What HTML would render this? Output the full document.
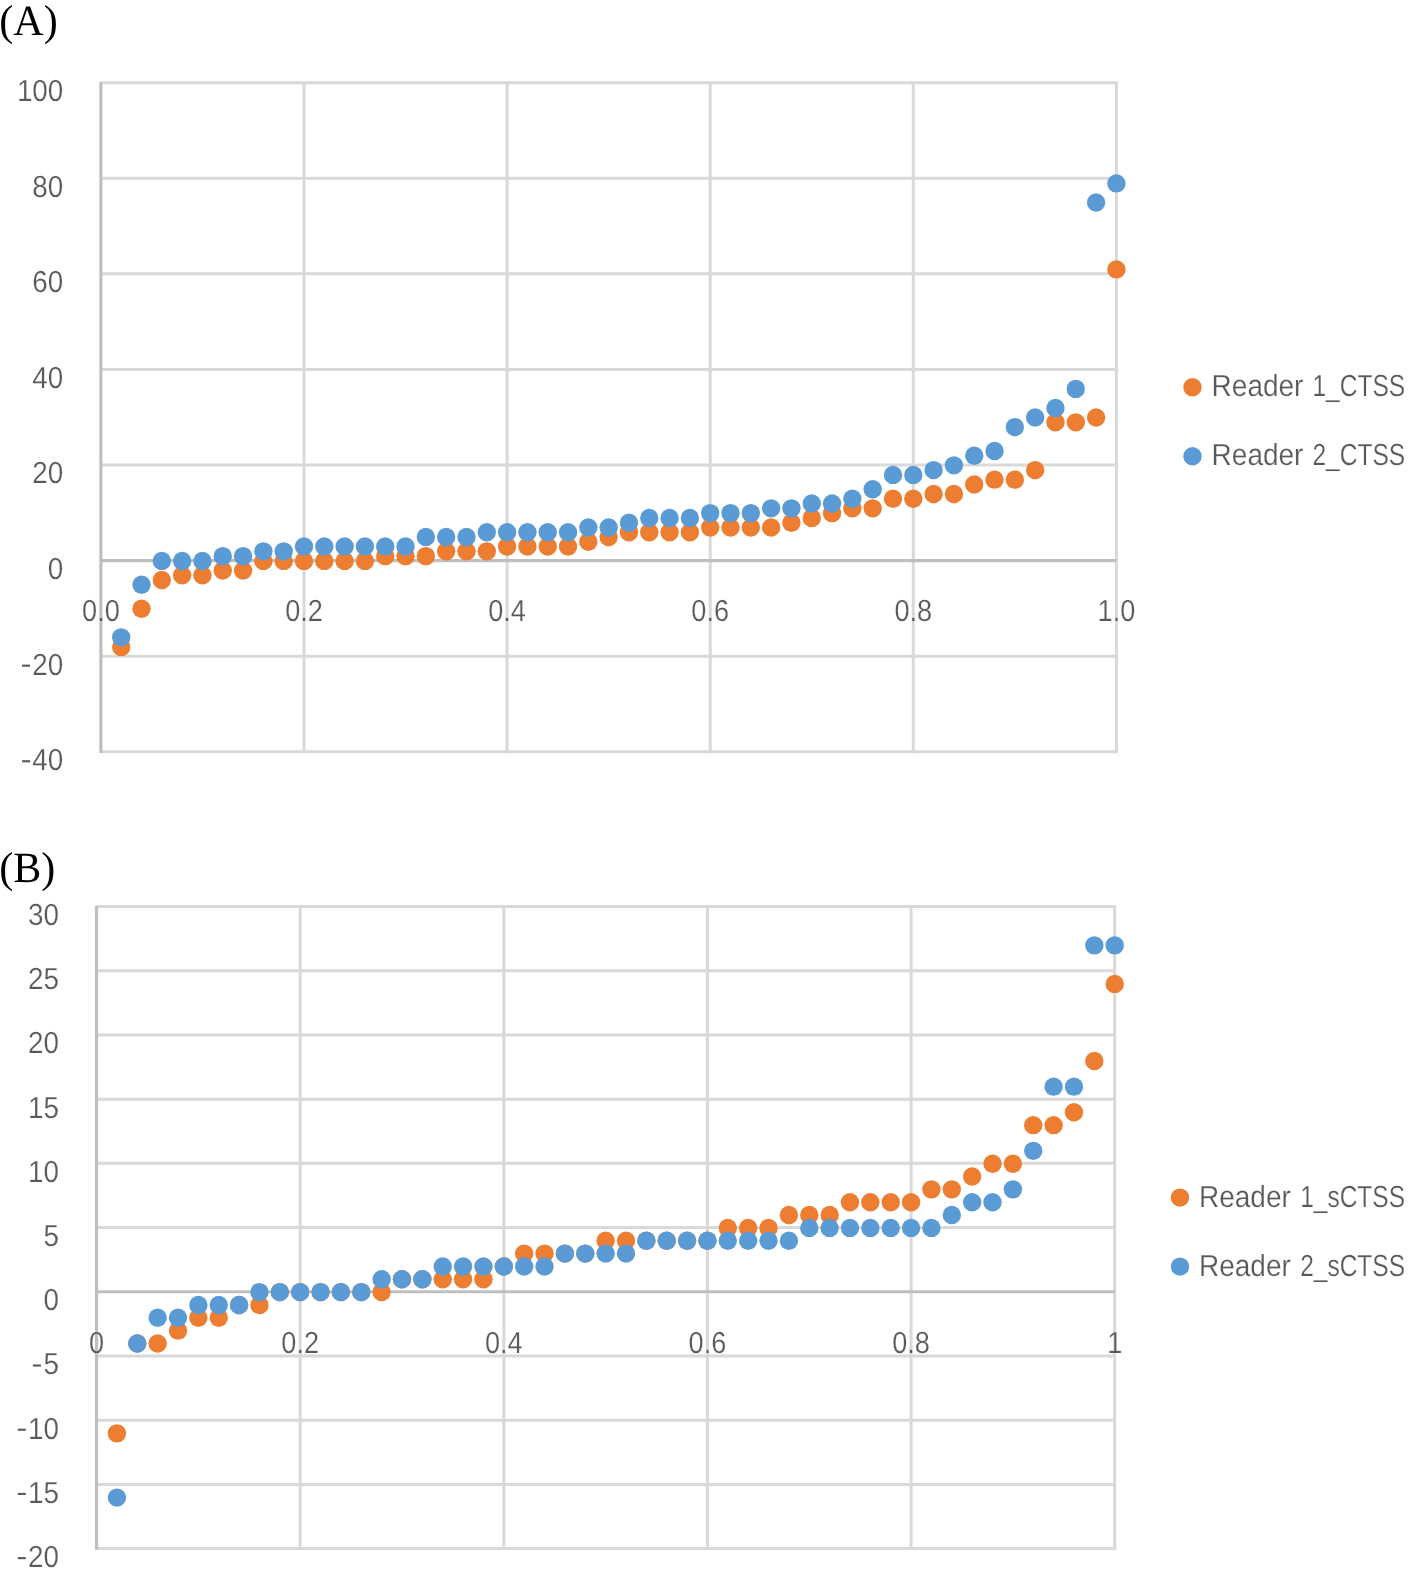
<!DOCTYPE html>
<html lang="en">
<head>
<meta charset="utf-8">
<title>Reader CTSS / sCTSS cumulative probability plots</title>
<style>
html,body{margin:0;padding:0;background:#fff;}
body{width:1419px;height:1574px;overflow:hidden;font-family:"Liberation Sans",sans-serif;}
svg{display:block;will-change:transform;}
svg text{stroke:#fff;stroke-width:.22px;paint-order:fill stroke;stroke-linejoin:round;}
svg .pl text{stroke:none;}
</style>
</head>
<body>
<svg width="1419" height="1574" viewBox="0 0 1419 1574" font-family="'Liberation Sans', sans-serif" font-size="30.5" fill="#595959" text-rendering="geometricPrecision">
<rect width="1419" height="1574" fill="#fff"/>
<line x1="100.9" y1="82.7" x2="1116.4" y2="82.7" stroke="#D9D9D9" stroke-width="3"/>
<line x1="100.9" y1="178.27" x2="1116.4" y2="178.27" stroke="#D9D9D9" stroke-width="3"/>
<line x1="100.9" y1="273.84" x2="1116.4" y2="273.84" stroke="#D9D9D9" stroke-width="3"/>
<line x1="100.9" y1="369.41" x2="1116.4" y2="369.41" stroke="#D9D9D9" stroke-width="3"/>
<line x1="100.9" y1="464.99" x2="1116.4" y2="464.99" stroke="#D9D9D9" stroke-width="3"/>
<line x1="100.9" y1="656.13" x2="1116.4" y2="656.13" stroke="#D9D9D9" stroke-width="3"/>
<line x1="100.9" y1="751.7" x2="1116.4" y2="751.7" stroke="#D9D9D9" stroke-width="3"/>
<line x1="304" y1="82.7" x2="304" y2="751.7" stroke="#D9D9D9" stroke-width="3" stroke-linecap="square"/>
<line x1="507.1" y1="82.7" x2="507.1" y2="751.7" stroke="#D9D9D9" stroke-width="3" stroke-linecap="square"/>
<line x1="710.2" y1="82.7" x2="710.2" y2="751.7" stroke="#D9D9D9" stroke-width="3" stroke-linecap="square"/>
<line x1="913.3" y1="82.7" x2="913.3" y2="751.7" stroke="#D9D9D9" stroke-width="3" stroke-linecap="square"/>
<line x1="1116.4" y1="82.7" x2="1116.4" y2="751.7" stroke="#D9D9D9" stroke-width="3" stroke-linecap="square"/>
<line x1="100.9" y1="560.56" x2="1116.4" y2="560.56" stroke="#BFBFBF" stroke-width="3.2"/>
<line x1="100.9" y1="82.1" x2="100.9" y2="752.9" stroke="#BFBFBF" stroke-width="3.2"/>
<text transform="translate(63.3 101.1) scale(0.912 1)" text-anchor="end">100</text>
<text transform="translate(63.3 196.67) scale(0.912 1)" text-anchor="end">80</text>
<text transform="translate(63.3 292.24) scale(0.912 1)" text-anchor="end">60</text>
<text transform="translate(63.3 387.81) scale(0.912 1)" text-anchor="end">40</text>
<text transform="translate(63.3 483.39) scale(0.912 1)" text-anchor="end">20</text>
<text transform="translate(63.3 578.96) scale(0.912 1)" text-anchor="end">0</text>
<text transform="translate(63.3 674.53) scale(0.912 1)" text-anchor="end">20</text>
<rect x="22.1" y="664.63" width="8" height="2.1" fill="#595959"/>
<text transform="translate(63.3 770.1) scale(0.912 1)" text-anchor="end">40</text>
<rect x="22.1" y="760.2" width="8" height="2.1" fill="#595959"/>
<text transform="translate(100.9 620.96) scale(0.89 1)" text-anchor="middle">0.0</text>
<text transform="translate(304 620.96) scale(0.89 1)" text-anchor="middle">0.2</text>
<text transform="translate(507.1 620.96) scale(0.89 1)" text-anchor="middle">0.4</text>
<text transform="translate(710.2 620.96) scale(0.89 1)" text-anchor="middle">0.6</text>
<text transform="translate(913.3 620.96) scale(0.89 1)" text-anchor="middle">0.8</text>
<text transform="translate(1116.4 620.96) scale(0.89 1)" text-anchor="middle">1.0</text>
<g fill="#ED7D31">
<circle cx="121.21" cy="646.92" r="9.2"/>
<circle cx="141.52" cy="608.69" r="9.2"/>
<circle cx="161.83" cy="580.02" r="9.2"/>
<circle cx="182.14" cy="575.24" r="9.2"/>
<circle cx="202.45" cy="575.24" r="9.2"/>
<circle cx="222.76" cy="570.46" r="9.2"/>
<circle cx="243.07" cy="570.46" r="9.2"/>
<circle cx="263.38" cy="560.91" r="9.2"/>
<circle cx="283.69" cy="560.91" r="9.2"/>
<circle cx="304" cy="560.91" r="9.2"/>
<circle cx="324.31" cy="560.91" r="9.2"/>
<circle cx="344.62" cy="560.91" r="9.2"/>
<circle cx="364.93" cy="560.91" r="9.2"/>
<circle cx="385.24" cy="556.13" r="9.2"/>
<circle cx="405.55" cy="556.13" r="9.2"/>
<circle cx="425.86" cy="556.13" r="9.2"/>
<circle cx="446.17" cy="551.35" r="9.2"/>
<circle cx="466.48" cy="551.35" r="9.2"/>
<circle cx="486.79" cy="551.35" r="9.2"/>
<circle cx="507.1" cy="546.57" r="9.2"/>
<circle cx="527.41" cy="546.57" r="9.2"/>
<circle cx="547.72" cy="546.57" r="9.2"/>
<circle cx="568.03" cy="546.57" r="9.2"/>
<circle cx="588.34" cy="541.79" r="9.2"/>
<circle cx="608.65" cy="537.01" r="9.2"/>
<circle cx="628.96" cy="532.24" r="9.2"/>
<circle cx="649.27" cy="532.24" r="9.2"/>
<circle cx="669.58" cy="532.24" r="9.2"/>
<circle cx="689.89" cy="532.24" r="9.2"/>
<circle cx="710.2" cy="527.46" r="9.2"/>
<circle cx="730.51" cy="527.46" r="9.2"/>
<circle cx="750.82" cy="527.46" r="9.2"/>
<circle cx="771.13" cy="527.46" r="9.2"/>
<circle cx="791.44" cy="522.68" r="9.2"/>
<circle cx="811.75" cy="517.9" r="9.2"/>
<circle cx="832.06" cy="513.12" r="9.2"/>
<circle cx="852.37" cy="508.34" r="9.2"/>
<circle cx="872.68" cy="508.34" r="9.2"/>
<circle cx="892.99" cy="498.79" r="9.2"/>
<circle cx="913.3" cy="498.79" r="9.2"/>
<circle cx="933.61" cy="494.01" r="9.2"/>
<circle cx="953.92" cy="494.01" r="9.2"/>
<circle cx="974.23" cy="484.45" r="9.2"/>
<circle cx="994.54" cy="479.67" r="9.2"/>
<circle cx="1014.85" cy="479.67" r="9.2"/>
<circle cx="1035.16" cy="470.11" r="9.2"/>
<circle cx="1055.47" cy="422.33" r="9.2"/>
<circle cx="1075.78" cy="422.33" r="9.2"/>
<circle cx="1096.09" cy="417.55" r="9.2"/>
<circle cx="1116.4" cy="269.41" r="9.2"/>
</g>
<g fill="#5B9BD5">
<circle cx="121.21" cy="637.36" r="9.2"/>
<circle cx="141.52" cy="584.8" r="9.2"/>
<circle cx="161.83" cy="560.91" r="9.2"/>
<circle cx="182.14" cy="560.91" r="9.2"/>
<circle cx="202.45" cy="560.91" r="9.2"/>
<circle cx="222.76" cy="556.13" r="9.2"/>
<circle cx="243.07" cy="556.13" r="9.2"/>
<circle cx="263.38" cy="551.35" r="9.2"/>
<circle cx="283.69" cy="551.35" r="9.2"/>
<circle cx="304" cy="546.57" r="9.2"/>
<circle cx="324.31" cy="546.57" r="9.2"/>
<circle cx="344.62" cy="546.57" r="9.2"/>
<circle cx="364.93" cy="546.57" r="9.2"/>
<circle cx="385.24" cy="546.57" r="9.2"/>
<circle cx="405.55" cy="546.57" r="9.2"/>
<circle cx="425.86" cy="537.01" r="9.2"/>
<circle cx="446.17" cy="537.01" r="9.2"/>
<circle cx="466.48" cy="537.01" r="9.2"/>
<circle cx="486.79" cy="532.24" r="9.2"/>
<circle cx="507.1" cy="532.24" r="9.2"/>
<circle cx="527.41" cy="532.24" r="9.2"/>
<circle cx="547.72" cy="532.24" r="9.2"/>
<circle cx="568.03" cy="532.24" r="9.2"/>
<circle cx="588.34" cy="527.46" r="9.2"/>
<circle cx="608.65" cy="527.46" r="9.2"/>
<circle cx="628.96" cy="522.68" r="9.2"/>
<circle cx="649.27" cy="517.9" r="9.2"/>
<circle cx="669.58" cy="517.9" r="9.2"/>
<circle cx="689.89" cy="517.9" r="9.2"/>
<circle cx="710.2" cy="513.12" r="9.2"/>
<circle cx="730.51" cy="513.12" r="9.2"/>
<circle cx="750.82" cy="513.12" r="9.2"/>
<circle cx="771.13" cy="508.34" r="9.2"/>
<circle cx="791.44" cy="508.34" r="9.2"/>
<circle cx="811.75" cy="503.56" r="9.2"/>
<circle cx="832.06" cy="503.56" r="9.2"/>
<circle cx="852.37" cy="498.79" r="9.2"/>
<circle cx="872.68" cy="489.23" r="9.2"/>
<circle cx="892.99" cy="474.89" r="9.2"/>
<circle cx="913.3" cy="474.89" r="9.2"/>
<circle cx="933.61" cy="470.11" r="9.2"/>
<circle cx="953.92" cy="465.34" r="9.2"/>
<circle cx="974.23" cy="455.78" r="9.2"/>
<circle cx="994.54" cy="451" r="9.2"/>
<circle cx="1014.85" cy="427.11" r="9.2"/>
<circle cx="1035.16" cy="417.55" r="9.2"/>
<circle cx="1055.47" cy="407.99" r="9.2"/>
<circle cx="1075.78" cy="388.88" r="9.2"/>
<circle cx="1096.09" cy="202.51" r="9.2"/>
<circle cx="1116.4" cy="183.4" r="9.2"/>
</g>
<line x1="96.56" y1="906.5" x2="1114.7" y2="906.5" stroke="#D9D9D9" stroke-width="3"/>
<line x1="96.56" y1="970.71" x2="1114.7" y2="970.71" stroke="#D9D9D9" stroke-width="3"/>
<line x1="96.56" y1="1034.92" x2="1114.7" y2="1034.92" stroke="#D9D9D9" stroke-width="3"/>
<line x1="96.56" y1="1099.13" x2="1114.7" y2="1099.13" stroke="#D9D9D9" stroke-width="3"/>
<line x1="96.56" y1="1163.34" x2="1114.7" y2="1163.34" stroke="#D9D9D9" stroke-width="3"/>
<line x1="96.56" y1="1227.55" x2="1114.7" y2="1227.55" stroke="#D9D9D9" stroke-width="3"/>
<line x1="96.56" y1="1355.97" x2="1114.7" y2="1355.97" stroke="#D9D9D9" stroke-width="3"/>
<line x1="96.56" y1="1420.18" x2="1114.7" y2="1420.18" stroke="#D9D9D9" stroke-width="3"/>
<line x1="96.56" y1="1484.39" x2="1114.7" y2="1484.39" stroke="#D9D9D9" stroke-width="3"/>
<line x1="96.56" y1="1548.6" x2="1114.7" y2="1548.6" stroke="#D9D9D9" stroke-width="3"/>
<line x1="300.19" y1="906.5" x2="300.19" y2="1548.6" stroke="#D9D9D9" stroke-width="3" stroke-linecap="square"/>
<line x1="503.82" y1="906.5" x2="503.82" y2="1548.6" stroke="#D9D9D9" stroke-width="3" stroke-linecap="square"/>
<line x1="707.44" y1="906.5" x2="707.44" y2="1548.6" stroke="#D9D9D9" stroke-width="3" stroke-linecap="square"/>
<line x1="911.07" y1="906.5" x2="911.07" y2="1548.6" stroke="#D9D9D9" stroke-width="3" stroke-linecap="square"/>
<line x1="1114.7" y1="906.5" x2="1114.7" y2="1548.6" stroke="#D9D9D9" stroke-width="3" stroke-linecap="square"/>
<line x1="96.56" y1="1291.76" x2="1114.7" y2="1291.76" stroke="#BFBFBF" stroke-width="3.2"/>
<line x1="96.56" y1="905.9" x2="96.56" y2="1549.8" stroke="#BFBFBF" stroke-width="3.2"/>
<text transform="translate(59 924.9) scale(0.912 1)" text-anchor="end">30</text>
<text transform="translate(59 989.11) scale(0.912 1)" text-anchor="end">25</text>
<text transform="translate(59 1053.32) scale(0.912 1)" text-anchor="end">20</text>
<text transform="translate(59 1117.53) scale(0.912 1)" text-anchor="end">15</text>
<text transform="translate(59 1181.74) scale(0.912 1)" text-anchor="end">10</text>
<text transform="translate(59 1245.95) scale(0.912 1)" text-anchor="end">5</text>
<text transform="translate(59 1310.16) scale(0.912 1)" text-anchor="end">0</text>
<text transform="translate(59 1374.37) scale(0.912 1)" text-anchor="end">5</text>
<rect x="32.9" y="1364.47" width="8" height="2.1" fill="#595959"/>
<text transform="translate(59 1438.58) scale(0.912 1)" text-anchor="end">10</text>
<rect x="17.8" y="1428.68" width="8" height="2.1" fill="#595959"/>
<text transform="translate(59 1502.79) scale(0.912 1)" text-anchor="end">15</text>
<rect x="17.8" y="1492.89" width="8" height="2.1" fill="#595959"/>
<text transform="translate(59 1567) scale(0.912 1)" text-anchor="end">20</text>
<rect x="17.8" y="1557.1" width="8" height="2.1" fill="#595959"/>
<text transform="translate(96.56 1353.26) scale(0.89 1)" text-anchor="middle">0</text>
<text transform="translate(300.19 1353.26) scale(0.89 1)" text-anchor="middle">0.2</text>
<text transform="translate(503.82 1353.26) scale(0.89 1)" text-anchor="middle">0.4</text>
<text transform="translate(707.44 1353.26) scale(0.89 1)" text-anchor="middle">0.6</text>
<text transform="translate(911.07 1353.26) scale(0.89 1)" text-anchor="middle">0.8</text>
<text transform="translate(1114.7 1353.26) scale(0.89 1)" text-anchor="middle">1</text>
<g fill="#ED7D31">
<circle cx="116.92" cy="1433.37" r="9.2"/>
<circle cx="137.29" cy="1343.48" r="9.2"/>
<circle cx="157.65" cy="1343.48" r="9.2"/>
<circle cx="178.01" cy="1330.64" r="9.2"/>
<circle cx="198.37" cy="1317.79" r="9.2"/>
<circle cx="218.74" cy="1317.79" r="9.2"/>
<circle cx="239.1" cy="1304.95" r="9.2"/>
<circle cx="259.46" cy="1304.95" r="9.2"/>
<circle cx="279.83" cy="1292.11" r="9.2"/>
<circle cx="300.19" cy="1292.11" r="9.2"/>
<circle cx="320.55" cy="1292.11" r="9.2"/>
<circle cx="340.91" cy="1292.11" r="9.2"/>
<circle cx="361.28" cy="1292.11" r="9.2"/>
<circle cx="381.64" cy="1292.11" r="9.2"/>
<circle cx="402" cy="1279.27" r="9.2"/>
<circle cx="422.36" cy="1279.27" r="9.2"/>
<circle cx="442.73" cy="1279.27" r="9.2"/>
<circle cx="463.09" cy="1279.27" r="9.2"/>
<circle cx="483.45" cy="1279.27" r="9.2"/>
<circle cx="503.82" cy="1266.43" r="9.2"/>
<circle cx="524.18" cy="1253.58" r="9.2"/>
<circle cx="544.54" cy="1253.58" r="9.2"/>
<circle cx="564.9" cy="1253.58" r="9.2"/>
<circle cx="585.27" cy="1253.58" r="9.2"/>
<circle cx="605.63" cy="1240.74" r="9.2"/>
<circle cx="625.99" cy="1240.74" r="9.2"/>
<circle cx="646.36" cy="1240.74" r="9.2"/>
<circle cx="666.72" cy="1240.74" r="9.2"/>
<circle cx="687.08" cy="1240.74" r="9.2"/>
<circle cx="707.44" cy="1240.74" r="9.2"/>
<circle cx="727.81" cy="1227.9" r="9.2"/>
<circle cx="748.17" cy="1227.9" r="9.2"/>
<circle cx="768.53" cy="1227.9" r="9.2"/>
<circle cx="788.9" cy="1215.06" r="9.2"/>
<circle cx="809.26" cy="1215.06" r="9.2"/>
<circle cx="829.62" cy="1215.06" r="9.2"/>
<circle cx="849.98" cy="1202.22" r="9.2"/>
<circle cx="870.35" cy="1202.22" r="9.2"/>
<circle cx="890.71" cy="1202.22" r="9.2"/>
<circle cx="911.07" cy="1202.22" r="9.2"/>
<circle cx="931.43" cy="1189.37" r="9.2"/>
<circle cx="951.8" cy="1189.37" r="9.2"/>
<circle cx="972.16" cy="1176.53" r="9.2"/>
<circle cx="992.52" cy="1163.69" r="9.2"/>
<circle cx="1012.89" cy="1163.69" r="9.2"/>
<circle cx="1033.25" cy="1125.16" r="9.2"/>
<circle cx="1053.61" cy="1125.16" r="9.2"/>
<circle cx="1073.97" cy="1112.32" r="9.2"/>
<circle cx="1094.34" cy="1060.95" r="9.2"/>
<circle cx="1114.7" cy="983.9" r="9.2"/>
</g>
<g fill="#5B9BD5">
<circle cx="116.92" cy="1497.58" r="9.2"/>
<circle cx="137.29" cy="1343.48" r="9.2"/>
<circle cx="157.65" cy="1317.79" r="9.2"/>
<circle cx="178.01" cy="1317.79" r="9.2"/>
<circle cx="198.37" cy="1304.95" r="9.2"/>
<circle cx="218.74" cy="1304.95" r="9.2"/>
<circle cx="239.1" cy="1304.95" r="9.2"/>
<circle cx="259.46" cy="1292.11" r="9.2"/>
<circle cx="279.83" cy="1292.11" r="9.2"/>
<circle cx="300.19" cy="1292.11" r="9.2"/>
<circle cx="320.55" cy="1292.11" r="9.2"/>
<circle cx="340.91" cy="1292.11" r="9.2"/>
<circle cx="361.28" cy="1292.11" r="9.2"/>
<circle cx="381.64" cy="1279.27" r="9.2"/>
<circle cx="402" cy="1279.27" r="9.2"/>
<circle cx="422.36" cy="1279.27" r="9.2"/>
<circle cx="442.73" cy="1266.43" r="9.2"/>
<circle cx="463.09" cy="1266.43" r="9.2"/>
<circle cx="483.45" cy="1266.43" r="9.2"/>
<circle cx="503.82" cy="1266.43" r="9.2"/>
<circle cx="524.18" cy="1266.43" r="9.2"/>
<circle cx="544.54" cy="1266.43" r="9.2"/>
<circle cx="564.9" cy="1253.58" r="9.2"/>
<circle cx="585.27" cy="1253.58" r="9.2"/>
<circle cx="605.63" cy="1253.58" r="9.2"/>
<circle cx="625.99" cy="1253.58" r="9.2"/>
<circle cx="646.36" cy="1240.74" r="9.2"/>
<circle cx="666.72" cy="1240.74" r="9.2"/>
<circle cx="687.08" cy="1240.74" r="9.2"/>
<circle cx="707.44" cy="1240.74" r="9.2"/>
<circle cx="727.81" cy="1240.74" r="9.2"/>
<circle cx="748.17" cy="1240.74" r="9.2"/>
<circle cx="768.53" cy="1240.74" r="9.2"/>
<circle cx="788.9" cy="1240.74" r="9.2"/>
<circle cx="809.26" cy="1227.9" r="9.2"/>
<circle cx="829.62" cy="1227.9" r="9.2"/>
<circle cx="849.98" cy="1227.9" r="9.2"/>
<circle cx="870.35" cy="1227.9" r="9.2"/>
<circle cx="890.71" cy="1227.9" r="9.2"/>
<circle cx="911.07" cy="1227.9" r="9.2"/>
<circle cx="931.43" cy="1227.9" r="9.2"/>
<circle cx="951.8" cy="1215.06" r="9.2"/>
<circle cx="972.16" cy="1202.22" r="9.2"/>
<circle cx="992.52" cy="1202.22" r="9.2"/>
<circle cx="1012.89" cy="1189.37" r="9.2"/>
<circle cx="1033.25" cy="1150.85" r="9.2"/>
<circle cx="1053.61" cy="1086.64" r="9.2"/>
<circle cx="1073.97" cy="1086.64" r="9.2"/>
<circle cx="1094.34" cy="945.38" r="9.2"/>
<circle cx="1114.7" cy="945.38" r="9.2"/>
</g>
<circle cx="1192.5" cy="387.2" r="9.2" fill="#ED7D31"/>
<circle cx="1192.5" cy="456.2" r="9.2" fill="#5B9BD5"/>
<text transform="translate(1211.6 395.6) scale(0.918 1)">Reader</text>
<text transform="translate(1405.2 395.6) scale(0.805 1)" text-anchor="end">1_CTSS</text>
<text transform="translate(1211.6 464.8) scale(0.918 1)">Reader</text>
<text transform="translate(1405.2 464.8) scale(0.805 1)" text-anchor="end">2_CTSS</text>
<text transform="translate(1199 1207) scale(0.918 1)">Reader</text>
<text transform="translate(1405 1207) scale(0.803 1)" text-anchor="end">1_sCTSS</text>
<text transform="translate(1199 1275.5) scale(0.918 1)">Reader</text>
<text transform="translate(1405 1275.5) scale(0.803 1)" text-anchor="end">2_sCTSS</text>
<circle cx="1180" cy="1197.6" r="9.2" fill="#ED7D31"/>
<circle cx="1180" cy="1266.6" r="9.2" fill="#5B9BD5"/>
<g font-family="'Liberation Serif', serif" font-size="43.2" fill="#000" class="pl">
<text transform="translate(-0.8 34.6) scale(0.976 1)">(A)</text>
<text transform="translate(-0.8 881.7) scale(0.976 1)">(B)</text>
</g>
</svg>
</body>
</html>
